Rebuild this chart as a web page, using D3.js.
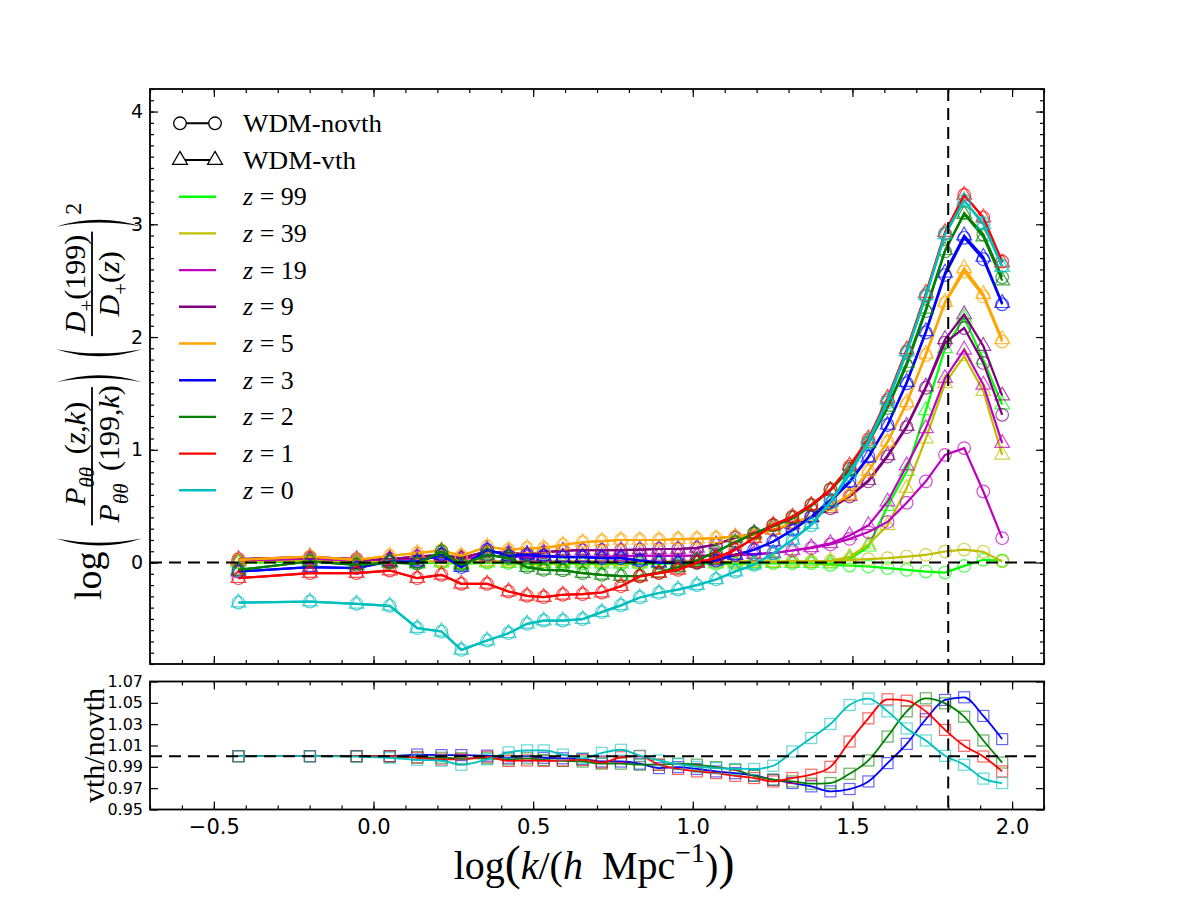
<!DOCTYPE html>
<html>
<head>
<meta charset="utf-8">
<script src="https://cdn.jsdelivr.net/npm/d3@7"></script>
<style>
  body { margin: 0; background: #fff; }
</style>
</head>
<body>
<div id="chart"></div>
<script>
// log(k / (h Mpc^-1)) of every bin
const logk = [-0.423, -0.199, -0.053, 0.051, 0.137, 0.213, 0.275, 0.356, 0.423, 0.481, 0.533, 0.593,
  0.655, 0.715, 0.775, 0.834, 0.894, 0.954, 1.013, 1.073, 1.133, 1.192, 1.252, 1.312, 1.371, 1.431,
  1.491, 1.550, 1.610, 1.670, 1.730, 1.790, 1.850, 1.910, 1.969];

const zNames = ["99", "39", "19", "9", "5", "3", "2", "1", "0"];
const zColors = ["#00ff00", "#bfbf00", "#bf00bf", "#800080", "#ffa500", "#0000ff", "#008000", "#ff0000", "#00bfbf"];

// top panel, WDM-novth
const novth_z99 = [0.0, 0.01, -0.01, 0.0, -0.005, 0.0, -0.01, 0.0, -0.005, -0.01, -0.01, -0.005, -0.01, -0.01, -0.01, -0.01, -0.01, -0.005, -0.005, -0.01, -0.01, -0.005, -0.005, -0.005, -0.005, -0.02, -0.027, -0.035, -0.05, -0.065, -0.08, -0.089, -0.03, 0.024, 0.018];
const novth_z39 = [0.01, 0.02, 0.0, 0.01, 0.005, 0.01, 0.0, 0.01, 0.01, 0.005, 0.01, 0.01, 0.01, 0.01, 0.01, 0.005, 0.005, 0.01, 0.01, 0.005, 0.005, 0.01, 0.005, 0.01, 0.01, 0.01, 0.024, 0.03, 0.039, 0.053, 0.068, 0.098, 0.115, 0.095, 0.01];
const novth_z19 = [0.02, 0.035, 0.02, 0.03, 0.035, 0.05, 0.03, 0.06, 0.055, 0.05, 0.055, 0.05, 0.05, 0.05, 0.055, 0.06, 0.06, 0.06, 0.06, 0.062, 0.065, 0.075, 0.083, 0.107, 0.128, 0.16, 0.21, 0.27, 0.36, 0.53, 0.72, 0.955, 1.015, 0.63, 0.216];
const novth_z9 = [0.03, 0.048, 0.03, 0.03, 0.053, 0.068, 0.04, 0.098, 0.083, 0.075, 0.09, 0.105, 0.11, 0.11, 0.11, 0.115, 0.12, 0.12, 0.13, 0.16, 0.22, 0.26, 0.29, 0.34, 0.40, 0.48, 0.585, 0.72, 0.94, 1.20, 1.55, 1.95, 2.08, 1.77, 1.31];
const novth_z5 = [0.024, 0.053, 0.024, 0.06, 0.083, 0.107, 0.06, 0.142, 0.113, 0.127, 0.127, 0.157, 0.18, 0.19, 0.20, 0.20, 0.20, 0.207, 0.21, 0.216, 0.23, 0.246, 0.29, 0.35, 0.41, 0.50, 0.60, 0.81, 1.07, 1.41, 1.84, 2.30, 2.58, 2.36, 1.96];
const novth_z3 = [-0.08, -0.041, -0.05, 0.009, 0.009, 0.068, -0.041, 0.113, 0.059, 0.068, 0.059, 0.048, 0.048, 0.039, 0.039, 0.018, 0.0, -0.006, 0.0, 0.018, 0.068, 0.113, 0.186, 0.29, 0.408, 0.556, 0.72, 0.94, 1.22, 1.59, 2.04, 2.55, 2.88, 2.69, 2.29];
const novth_z2 = [-0.065, 0.009, -0.02, 0.0, -0.01, 0.098, -0.02, 0.068, 0.04, -0.041, -0.065, -0.07, -0.094, -0.109, -0.12, -0.118, -0.09, -0.04, 0.02, 0.095, 0.18, 0.26, 0.33, 0.40, 0.51, 0.65, 0.83, 1.06, 1.37, 1.75, 2.23, 2.76, 3.10, 2.91, 2.53];
const novth_z1 = [-0.139, -0.094, -0.094, -0.071, -0.139, -0.109, -0.189, -0.189, -0.257, -0.295, -0.307, -0.286, -0.28, -0.266, -0.21, -0.124, -0.094, -0.065, 0.0, 0.039, 0.113, 0.216, 0.334, 0.408, 0.512, 0.645, 0.85, 1.09, 1.44, 1.87, 2.37, 2.92, 3.26, 3.06, 2.67];
const novth_z0 = [-0.355, -0.346, -0.366, -0.384, -0.582, -0.612, -0.775, -0.692, -0.627, -0.544, -0.515, -0.515, -0.502, -0.44, -0.38, -0.31, -0.27, -0.24, -0.20, -0.15, -0.08, -0.02, 0.08, 0.20, 0.33, 0.53, 0.78, 1.06, 1.42, 1.86, 2.36, 2.91, 3.21, 3.01, 2.63];

// top panel, WDM-vth
const vth_z99 = [0.0, 0.01, -0.01, 0.0, -0.005, 0.0, -0.01, 0.0, -0.005, -0.01, -0.01, -0.005, -0.01, -0.01, -0.01, -0.01, -0.01, -0.005, -0.005, -0.01, -0.01, -0.005, -0.005, -0.005, -0.005, -0.01, 0.03, 0.14, 0.50, 0.81, 1.35, 1.90, 2.17, 1.80, 1.40];
const vth_z39 = [0.01, 0.02, 0.0, 0.01, 0.005, 0.01, 0.0, 0.01, 0.01, 0.005, 0.01, 0.01, 0.01, 0.01, 0.01, 0.005, 0.005, 0.01, 0.01, 0.005, 0.005, 0.01, 0.005, 0.01, 0.01, 0.015, 0.05, 0.16, 0.33, 0.66, 1.10, 1.59, 1.83, 1.52, 0.955];
const vth_z19 = [0.02, 0.035, 0.02, 0.03, 0.035, 0.05, 0.03, 0.06, 0.055, 0.05, 0.055, 0.05, 0.05, 0.05, 0.055, 0.06, 0.06, 0.06, 0.06, 0.062, 0.065, 0.075, 0.083, 0.107, 0.135, 0.17, 0.24, 0.33, 0.54, 0.86, 1.19, 1.635, 1.887, 1.576, 1.059];
const vth_z9 = [0.03, 0.048, 0.03, 0.03, 0.053, 0.068, 0.04, 0.098, 0.083, 0.075, 0.09, 0.105, 0.11, 0.11, 0.11, 0.115, 0.12, 0.12, 0.13, 0.16, 0.22, 0.26, 0.29, 0.34, 0.40, 0.48, 0.59, 0.73, 0.95, 1.21, 1.56, 1.98, 2.20, 1.92, 1.48];
const vth_z5 = [0.024, 0.053, 0.024, 0.06, 0.083, 0.107, 0.06, 0.142, 0.113, 0.127, 0.127, 0.157, 0.18, 0.19, 0.20, 0.20, 0.20, 0.207, 0.21, 0.216, 0.23, 0.246, 0.29, 0.35, 0.41, 0.50, 0.60, 0.81, 1.07, 1.42, 1.85, 2.31, 2.61, 2.38, 1.98];
const vth_z3 = [-0.08, -0.041, -0.05, 0.009, 0.009, 0.068, -0.041, 0.113, 0.059, 0.068, 0.059, 0.048, 0.048, 0.039, 0.039, 0.018, 0.0, -0.006, 0.0, 0.018, 0.068, 0.113, 0.186, 0.285, 0.40, 0.54, 0.71, 0.93, 1.22, 1.60, 2.05, 2.57, 2.90, 2.71, 2.30];
const vth_z2 = [-0.065, 0.009, -0.02, 0.0, -0.01, 0.098, -0.02, 0.068, 0.04, -0.041, -0.065, -0.07, -0.094, -0.109, -0.12, -0.118, -0.09, -0.04, 0.02, 0.095, 0.18, 0.255, 0.32, 0.39, 0.50, 0.64, 0.82, 1.06, 1.38, 1.77, 2.25, 2.77, 3.09, 2.89, 2.50];
const vth_z1 = [-0.139, -0.094, -0.094, -0.071, -0.139, -0.109, -0.189, -0.189, -0.257, -0.295, -0.307, -0.286, -0.28, -0.266, -0.21, -0.124, -0.094, -0.065, 0.0, 0.039, 0.113, 0.216, 0.334, 0.405, 0.51, 0.64, 0.86, 1.10, 1.46, 1.89, 2.39, 2.93, 3.26, 3.06, 2.66];
const vth_z0 = [-0.355, -0.346, -0.366, -0.384, -0.582, -0.612, -0.775, -0.692, -0.627, -0.544, -0.515, -0.515, -0.502, -0.44, -0.38, -0.31, -0.27, -0.24, -0.20, -0.15, -0.08, -0.02, 0.08, 0.20, 0.34, 0.54, 0.80, 1.08, 1.44, 1.87, 2.37, 2.91, 3.21, 3.00, 2.62];

// bottom panel, vth / novth
const ratio_z3 = [1.0, 1.0, 1.0, 1.0, 1.0015, 1.001, 1.001, 1.0005, 0.9985, 1.0, 0.9985, 0.998, 0.9972, 0.995, 0.995, 0.993, 0.9888, 0.9897, 0.988, 0.9857, 0.9841, 0.982, 0.9779, 0.9748, 0.9717, 0.967, 0.9692, 0.9763, 0.9935, 1.0115, 1.0346, 1.0527, 1.0552, 1.0377, 1.016];
const ratio_z2 = [1.0, 1.0, 1.0, 0.9995, 0.999, 0.9985, 0.998, 0.998, 0.997, 0.998, 0.9965, 0.9955, 0.995, 0.993, 0.993, 0.992, 0.992, 0.993, 0.992, 0.9897, 0.9872, 0.9816, 0.9779, 0.9763, 0.9742, 0.9748, 0.9835, 0.996, 1.0184, 1.042, 1.0542, 1.0495, 1.037, 1.0147, 0.994];
const ratio_z1 = [1.0, 1.0, 1.0, 1.0, 0.9985, 0.9969, 0.997, 0.9994, 0.9955, 0.996, 0.9955, 0.996, 0.9966, 0.994, 0.999, 1.0, 0.992, 0.988, 0.9857, 0.9841, 0.9816, 0.9795, 0.9763, 0.9795, 0.9826, 0.990, 1.0137, 1.0355, 1.0533, 1.052, 1.042, 1.0246, 1.0097, 0.9997, 0.9857];
const ratio_z0 = [1.0, 1.0, 0.9995, 0.9985, 0.9966, 0.9957, 0.992, 0.997, 1.0035, 1.0054, 1.0054, 1.0015, 0.998, 1.003, 1.006, 1.0004, 0.996, 0.9925, 0.990, 0.9888, 0.988, 0.988, 0.991, 1.0044, 1.017, 1.0302, 1.048, 1.054, 1.042, 1.026, 1.0147, 1.0003, 0.992, 0.979, 0.9748];

const novthSeries = [novth_z99, novth_z39, novth_z19, novth_z9, novth_z5, novth_z3, novth_z2, novth_z1, novth_z0];
const vthSeries = [vth_z99, vth_z39, vth_z19, vth_z9, vth_z5, vth_z3, vth_z2, vth_z1, vth_z0];
const ratioSeries = [
  { color: "#0000ff", values: ratio_z3 },
  { color: "#008000", values: ratio_z2 },
  { color: "#ff0000", values: ratio_z1 },
  { color: "#00bfbf", values: ratio_z0 }
];

const kCut = 1.8;
const serif = "'Liberation Serif', 'DejaVu Serif', serif";
const sans = "'DejaVu Sans', sans-serif";

const width = 1200, height = 900;
const svg = d3.select("#chart").append("svg")
  .attr("width", width).attr("height", height)
  .style("font-family", sans);

const x = d3.scaleLinear().domain([-0.7, 2.1]).range([150, 1044]);
const yTop = d3.scaleLinear().domain([-0.9, 4.2]).range([664, 89]);
const yBot = d3.scaleLinear().domain([0.95, 1.07]).range([809.5, 681.5]);

const xMajor = [-0.5, 0, 0.5, 1, 1.5, 2];
const xMinor = d3.range(-7, 22).map(d => d / 10);
const yTopMajor = [0, 1, 2, 3, 4];
const yTopMinor = d3.range(-9, 43).map(d => d / 10);
const yBotMajor = [0.95, 0.97, 0.99, 1.01, 1.03, 1.05, 1.07];

// draws ticks on all four sides, labels only where asked
function frame(yScale, yMaj, yMin, xLabels, yFmt, ySize) {
  const [y0, y1] = yScale.range();
  const g = svg.append("g");
  const axB = d3.axisBottom(x).tickValues(xMajor).tickSize(-8).tickPadding(10)
    .tickFormat(xLabels ? d3.format(".1f") : "");
  g.append("g").attr("transform", `translate(0,${y0})`).call(axB)
    .call(s => s.selectAll("text").attr("font-size", 21).attr("font-family", sans));
  g.append("g").attr("transform", `translate(0,${y0})`)
    .call(d3.axisBottom(x).tickValues(xMinor).tickSize(-4).tickFormat(""));
  g.append("g").attr("transform", `translate(0,${y1})`)
    .call(d3.axisTop(x).tickValues(xMajor).tickSize(-8).tickFormat(""));
  g.append("g").attr("transform", `translate(0,${y1})`)
    .call(d3.axisTop(x).tickValues(xMinor).tickSize(-4).tickFormat(""));

  g.append("g").attr("transform", "translate(150,0)")
    .call(d3.axisLeft(yScale).tickValues(yMaj).tickSize(-8).tickPadding(7).tickFormat(yFmt))
    .call(s => s.selectAll("text").attr("font-size", ySize).attr("font-family", sans));
  g.append("g").attr("transform", "translate(1044,0)")
    .call(d3.axisRight(yScale).tickValues(yMaj).tickSize(-8).tickFormat(""));
  if (yMin) {
    g.append("g").attr("transform", "translate(150,0)")
      .call(d3.axisLeft(yScale).tickValues(yMin).tickSize(-4).tickFormat(""));
    g.append("g").attr("transform", "translate(1044,0)")
      .call(d3.axisRight(yScale).tickValues(yMin).tickSize(-4).tickFormat(""));
  }
  g.selectAll(".domain").remove();
  g.selectAll(".tick line").attr("stroke", "#000").attr("stroke-width", 1.2);
  g.selectAll(".tick text").attr("fill", "#000");

  g.append("rect")
    .attr("x", 150).attr("y", y1).attr("width", 1044 - 150).attr("height", y0 - y1)
    .attr("fill", "none").attr("stroke", "#000").attr("stroke-width", 1.8);
}

function dashedRefs(yScale, yRef) {
  const [y0, y1] = yScale.range();
  svg.append("line")
    .attr("x1", x.range()[0]).attr("x2", x.range()[1])
    .attr("y1", yScale(yRef)).attr("y2", yScale(yRef))
    .attr("stroke", "#000").attr("stroke-width", 2).attr("stroke-dasharray", "12,7");
  svg.append("line")
    .attr("x1", x(kCut)).attr("x2", x(kCut))
    .attr("y1", y1).attr("y2", y0)
    .attr("stroke", "#000").attr("stroke-width", 2).attr("stroke-dasharray", "12,7");
}

// ---------- top panel ----------
const topG = svg.append("g");
const lineTop = d3.line().x((d, i) => x(logk[i])).y(d => yTop(d));
const tri = d3.symbol().type(d3.symbolTriangle).size(95);

zNames.forEach((z, j) => {
  const c = zColors[j];
  const g = topG.append("g");
  g.append("path").datum(novthSeries[j]).attr("d", lineTop)
    .attr("fill", "none").attr("stroke", c).attr("stroke-width", 2.2);
  g.selectAll("circle").data(novthSeries[j]).join("circle")
    .attr("cx", (d, i) => x(logk[i])).attr("cy", d => yTop(d)).attr("r", 6.3)
    .attr("fill", "none").attr("stroke", c).attr("stroke-width", 1.2).attr("stroke-opacity", 0.7);
  g.append("path").datum(vthSeries[j]).attr("d", lineTop)
    .attr("fill", "none").attr("stroke", c).attr("stroke-width", 2.2);
  g.selectAll("path.tri").data(vthSeries[j]).join("path").attr("class", "tri")
    .attr("d", tri)
    .attr("transform", (d, i) => `translate(${x(logk[i])},${yTop(d)})`)
    .attr("fill", "none").attr("stroke", c).attr("stroke-width", 1.2).attr("stroke-opacity", 0.7);
});

dashedRefs(yTop, 0);
frame(yTop, yTopMajor, yTopMinor, false, d3.format("d"), 19);

// ---------- bottom panel ----------
const lineBot = d3.line().curve(d3.curveMonotoneX).x((d, i) => x(logk[i])).y(d => yBot(d));
ratioSeries.forEach(s => {
  const g = svg.append("g");
  g.append("path").datum(s.values).attr("d", lineBot)
    .attr("fill", "none").attr("stroke", s.color).attr("stroke-width", 1.8);
  g.selectAll("rect").data(s.values).join("rect")
    .attr("x", (d, i) => x(logk[i]) - 5.5).attr("y", d => yBot(d) - 5.5)
    .attr("width", 11).attr("height", 11)
    .attr("fill", "none").attr("stroke", s.color).attr("stroke-width", 1.2).attr("stroke-opacity", 0.6);
});
dashedRefs(yBot, 1.0);
frame(yBot, yBotMajor, null, true, d3.format(".2f"), 16);

// ---------- legend ----------
const leg = svg.append("g");
const legY0 = 123.3, legStep = 36.7;
function legText(y, parts, len) {
  const t = leg.append("text").attr("x", 243).attr("y", y + 8.5)
    .attr("font-family", serif).attr("font-size", 26);
  if (len) t.attr("textLength", len).attr("lengthAdjust", "spacingAndGlyphs");
  parts.forEach(p => t.append("tspan").attr("font-style", p.i ? "italic" : "normal").text(p.t));
}
[["WDM-novth", "circle", 139], ["WDM-vth", "tri", 113]].forEach(([name, mk, len], i) => {
  const y = legY0 + i * legStep;
  leg.append("line").attr("x1", 180).attr("x2", 215).attr("y1", y).attr("y2", y)
    .attr("stroke", "#000").attr("stroke-width", 2);
  [180, 215].forEach(cx => {
    if (mk === "circle") {
      leg.append("circle").attr("cx", cx).attr("cy", y).attr("r", 6.3)
        .attr("fill", "#fff").attr("stroke", "#000").attr("stroke-width", 1.3);
    } else {
      leg.append("path").attr("d", tri).attr("transform", `translate(${cx},${y})`)
        .attr("fill", "#fff").attr("stroke", "#000").attr("stroke-width", 1.3);
    }
  });
  legText(y, [{ t: name }], len);
});
zNames.forEach((z, j) => {
  const y = legY0 + (j + 2) * legStep;
  leg.append("line").attr("x1", 179).attr("x2", 216).attr("y1", y).attr("y2", y)
    .attr("stroke", zColors[j]).attr("stroke-width", 2.4);
  legText(y, [{ t: "z", i: true }, { t: " = " + z }]);
});

// ---------- axis labels ----------
// rich text: parts with italic / sub / sup flags
function rich(g, parts, size, xx, yy, anchor) {
  const t = g.append("text").attr("x", xx).attr("y", yy)
    .attr("font-family", serif).attr("font-size", size)
    .attr("text-anchor", anchor || "start").attr("fill", "#000");
  let shift = 0;
  parts.forEach(p => {
    const s = p.sub ? size * 0.3 : p.sup ? -size * 0.42 : 0;
    t.append("tspan")
      .attr("dy", s - shift).attr("dx", p.dx || 0)
      .attr("font-size", p.sub || p.sup ? size * 0.7 : (p.size || size))
      .attr("font-style", p.i ? "italic" : "normal")
      .text(p.t);
    shift = s;
  });
  return t;
}

// crescent-shaped tall delimiter in local coordinates
function paren(g, px, yc, h, w, left) {
  const t = 2.8;
  const tipX = left ? px + w : px;
  const bulge = left ? px - w : px + 2 * w;
  const inner = left ? bulge + 2 * t : bulge - 2 * t;
  g.append("path")
    .attr("d", `M${tipX},${yc - h / 2} Q${bulge},${yc} ${tipX},${yc + h / 2} Q${inner},${yc} ${tipX},${yc - h / 2} Z`)
    .attr("fill", "#000");
}

function measure(t) { return t.node().getComputedTextLength(); }

// y label of the top panel, laid out along its own x axis then rotated
(function () {
  const g = svg.append("g");
  const fs = 30, axis = -9, ph = 86, pc = -2;
  let cx = 0;
  const logT = rich(g, [{ t: "log" }], 38, cx, 0);
  cx += measure(logT) + 6;

  function fraction(num, den) {
    const n = rich(g, num, fs, 0, axis - 7);
    const d = rich(g, den, fs, 0, axis + 27);
    const w = Math.max(measure(n), measure(d)) + 6;
    n.attr("x", cx + (w - measure(n)) / 2);
    d.attr("x", cx + (w - measure(d)) / 2);
    g.append("rect").attr("x", cx).attr("y", axis - 0.9).attr("width", w).attr("height", 1.8).attr("fill", "#000");
    cx += w;
  }

  paren(g, cx, pc, ph, 7, true); cx += 20;
  fraction([{ t: "P", i: true }, { t: "θθ", i: true, sub: true }, { t: " (", dx: 5 }, { t: "z", i: true }, { t: "," }, { t: "k", i: true }, { t: ")" }],
           [{ t: "P", i: true }, { t: "θθ", i: true, sub: true }, { t: " (199,", dx: 5 }, { t: "k", i: true }, { t: ")" }]);
  cx += 5; paren(g, cx, pc, ph, 7, false); cx += 26;
  paren(g, cx, pc, ph, 7, true); cx += 20;
  fraction([{ t: "D", i: true }, { t: "+", sub: true }, { t: "(199)" }],
           [{ t: "D", i: true }, { t: "+", sub: true }, { t: "(" }, { t: "z", i: true }, { t: ")" }]);
  cx += 5; paren(g, cx, pc, ph, 7, false); cx += 12;
  rich(g, [{ t: "2" }], 24, cx, -20);

  g.attr("transform", "translate(101,600) rotate(-90)");
})();

// y label of the bottom panel
rich(svg.append("g").attr("transform", "translate(104,745.5) rotate(-90)"),
  [{ t: "vth/novth" }], 30, 0, 0, "middle");

// x label
rich(svg, [{ t: "log" }, { t: "(", size: 48 }, { t: "k", i: true }, { t: "/(" }, { t: "h", i: true },
  { t: " Mpc", dx: 9 }, { t: "−1", sup: true }, { t: ")" }, { t: ")", size: 48 }], 40, 594, 879, "middle");
</script>
</body>
</html>
